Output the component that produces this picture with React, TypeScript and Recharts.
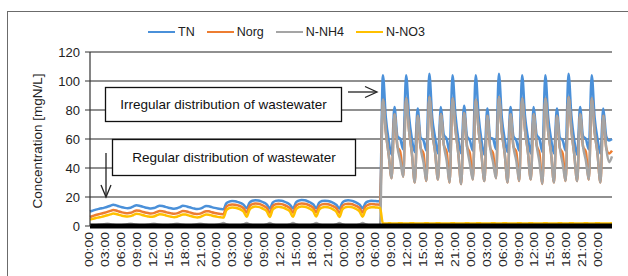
import React from "react";
import { LineChart, Line, XAxis, YAxis, CartesianGrid } from "recharts";

const FONT = '"Liberation Sans", Arial, sans-serif';

const SERIES = ["TN", "Norg", "N-NH4", "N-NO3"];
const KEYS = ["tn", "norg", "nh4", "no3"];
const COLORS = ["#4a90d9", "#ed7d31", "#a5a5a5", "#ffc000"];

const Y_TICKS = [0, 20, 40, 60, 80, 100, 120];

const TICK_HOURS = [
  0, 3, 6, 9, 12, 15, 18, 21, 24, 27, 30, 33, 36, 39, 42, 45, 48, 51, 54, 57, 60,
  63, 66, 69, 72, 75, 78, 81, 84, 87, 90, 93, 96,
];
const TICK_LABELS = [
  "00:00", "03:00", "06:00", "09:00", "12:00", "15:00", "18:00", "21:00",
  "00:00", "03:00", "06:00", "09:00", "12:00", "15:00", "18:00", "21:00",
  "00:00", "03:00", "06:00", "09:00", "12:00", "15:00", "18:00", "21:00",
  "00:00", "03:00", "06:00", "09:00", "12:00", "15:00", "18:00", "21:00",
  "00:00",
];

// one sample every ~33 min, 181 samples
const SAMPLE_STEP_H = 98.5 / 180;

// TN [mgN/L]
const TN = [
  // regular, low load
  10.0, 10.6, 11.3, 11.8, 12.2, 12.7, 13.3, 14.0, 14.6, 14.2,
  13.5, 12.9, 12.5, 12.3, 12.6, 13.5, 14.3, 14.0, 13.4, 12.8,
  12.4, 12.1, 12.4, 13.2, 14.0, 13.8, 13.2, 12.6, 12.2, 11.9,
  12.2, 13.0, 13.9, 13.7, 13.1, 12.5, 12.0, 11.7, 12.0, 12.9,
  13.8, 13.6, 13.0, 12.5, 12.1, 11.8, 11.6,
  // regular, higher load
  15.6, 16.8, 17.2, 17.0, 16.5, 15.8, 14.6, 12.2,
  16.0, 17.4, 17.8, 17.6, 17.0, 16.1, 14.8, 12.0,
  16.1, 17.3, 17.6, 17.4, 16.8, 15.9, 14.6, 12.1,
  16.2, 17.5, 17.9, 17.7, 17.1, 16.2, 14.9, 12.3,
  16.0, 17.2, 17.5, 17.3, 16.7, 15.8, 14.5, 12.0,
  16.1, 17.4, 17.7, 17.5, 16.9, 16.0, 14.7, 12.2,
  15.8, 17.0, 17.4, 17.3, 17.1, 17.0,
  // irregular
  104, 75, 59, 49, 82, 62, 60, 53,
  104, 76, 60, 51, 81, 61, 59, 52,
  105, 75, 61, 50, 82, 63, 60, 51,
  104, 77, 60, 50, 83, 62, 59, 52,
  104, 76, 59, 49, 81, 61, 60, 53,
  105, 75, 60, 51, 82, 62, 59, 52,
  104, 76, 61, 50, 82, 63, 60, 51,
  104, 75, 60, 50, 81, 61, 59, 52,
  105, 76, 59, 49, 82, 62, 60, 53,
  104, 75, 60, 50, 81, 62, 59, 60,
];

const NORG = [
  6.2, 6.9, 7.6, 8.1, 8.6, 9.1, 9.7, 10.4, 11.0, 10.7,
  10.0, 9.4, 9.0, 8.8, 9.1, 9.9, 10.7, 10.5, 9.9, 9.3,
  8.9, 8.6, 8.9, 9.7, 10.4, 10.2, 9.7, 9.1, 8.7, 8.4,
  8.7, 9.5, 10.3, 10.2, 9.6, 9.0, 8.5, 8.2, 8.5, 9.4,
  10.2, 10.1, 9.5, 9.0, 8.6, 8.3, 8.1,
  13.2, 14.5, 14.9, 14.7, 14.2, 13.5, 12.2, 9.3,
  13.6, 15.1, 15.5, 15.3, 14.7, 13.8, 12.4, 9.1,
  13.7, 15.0, 15.3, 15.1, 14.5, 13.6, 12.2, 9.2,
  13.8, 15.2, 15.6, 15.4, 14.8, 13.9, 12.5, 9.4,
  13.6, 14.9, 15.2, 15.0, 14.4, 13.5, 12.1, 9.1,
  13.7, 15.1, 15.4, 15.2, 14.6, 13.7, 12.3, 9.3,
  13.4, 14.7, 15.1, 15.0, 14.8, 14.7,
  87, 65, 49, 33, 77, 55, 51, 34,
  88, 66, 50, 30, 76, 54, 50, 31,
  89, 65, 51, 32, 77, 56, 51, 30,
  88, 67, 50, 29, 78, 55, 50, 32,
  87, 66, 49, 31, 76, 54, 50, 33,
  89, 65, 50, 30, 77, 55, 51, 31,
  88, 66, 51, 32, 77, 56, 50, 29,
  88, 65, 50, 30, 76, 54, 50, 31,
  89, 66, 49, 31, 77, 55, 51, 32,
  88, 65, 50, 30, 76, 54, 50, 52,
];

const NH4 = [
  0.5, 0.5, 0.6, 0.8, 1.0, 1.3, 1.6, 1.2, 0.8, 0.6,
  0.5, 0.6, 0.9, 1.3, 1.6, 1.2, 0.8, 0.6, 0.5, 0.6,
  0.9, 1.3, 1.6, 1.2, 0.8, 0.6, 0.5, 0.6, 0.9, 1.3,
  1.6, 1.2, 0.8, 0.6, 0.5, 0.6, 0.9, 1.3, 1.6, 1.2,
  0.8, 0.6, 0.5, 0.6, 0.9, 1.4, 2.0,
  1.0, 0.6, 0.5, 0.5, 0.5, 0.6, 1.0, 2.0,
  1.0, 0.6, 0.5, 0.5, 0.5, 0.6, 1.0, 2.0,
  1.0, 0.6, 0.5, 0.5, 0.5, 0.6, 1.0, 2.0,
  1.0, 0.6, 0.5, 0.5, 0.5, 0.6, 1.0, 2.0,
  1.0, 0.6, 0.5, 0.5, 0.5, 0.6, 1.0, 2.0,
  1.0, 0.6, 0.5, 0.5, 0.5, 0.6, 1.0, 2.0,
  1.0, 0.6, 0.5, 0.5, 0.5, 0.5,
  87, 65, 49, 33, 77, 55, 45, 34,
  88, 66, 50, 30, 76, 54, 44, 31,
  89, 65, 51, 32, 77, 56, 45, 30,
  88, 67, 50, 29, 78, 55, 43, 32,
  87, 66, 49, 31, 76, 54, 44, 33,
  89, 65, 50, 30, 77, 55, 45, 31,
  88, 66, 51, 32, 77, 56, 44, 29,
  88, 65, 50, 30, 76, 54, 43, 31,
  89, 66, 49, 31, 77, 55, 45, 32,
  88, 65, 50, 30, 76, 54, 44, 48,
];

const NO3 = [
  4.4, 4.9, 5.5, 5.9, 6.3, 6.8, 7.4, 8.0, 8.6, 8.3,
  7.7, 7.1, 6.7, 6.5, 6.8, 7.6, 8.4, 8.2, 7.6, 7.0,
  6.6, 6.3, 6.6, 7.4, 8.1, 8.0, 7.4, 6.8, 6.4, 6.1,
  6.4, 7.2, 8.0, 7.9, 7.3, 6.7, 6.2, 5.9, 6.2, 7.1,
  7.9, 7.8, 7.2, 6.7, 6.3, 6.0, 5.8,
  10.8, 12.3, 12.8, 12.6, 12.1, 11.3, 9.8, 6.4,
  11.2, 12.9, 13.4, 13.2, 12.6, 11.6, 10.0, 6.2,
  11.3, 12.8, 13.2, 13.0, 12.4, 11.4, 9.8, 6.3,
  11.4, 13.0, 13.5, 13.3, 12.7, 11.7, 10.1, 6.5,
  11.2, 12.7, 13.1, 12.9, 12.3, 11.3, 9.7, 6.2,
  11.3, 12.9, 13.3, 13.1, 12.5, 11.5, 9.9, 6.4,
  11.0, 12.5, 13.0, 12.9, 12.7, 12.6,
  1.8, 1.7, 1.9, 1.8, 1.7, 1.8, 1.9, 1.8,
  1.7, 1.8, 1.9, 1.8, 1.7, 1.8, 1.8, 1.9,
  1.8, 1.7, 1.8, 1.9, 1.8, 1.7, 1.8, 1.8,
  1.9, 1.8, 1.7, 1.8, 1.8, 1.9, 1.8, 1.7,
  1.8, 1.9, 1.8, 1.7, 1.8, 1.8, 1.9, 1.8,
  1.7, 1.8, 1.9, 1.8, 1.7, 1.8, 1.8, 1.9,
  1.8, 1.7, 1.8, 1.9, 1.8, 1.7, 1.8, 1.8,
  1.9, 1.8, 1.7, 1.8, 1.8, 1.9, 1.8, 1.7,
  1.8, 1.9, 1.8, 1.7, 1.8, 1.8, 1.9, 1.8,
  1.7, 1.8, 1.9, 1.8, 1.7, 1.8, 1.8, 1.9,
];

const rows = TN.map((v, i) => ({
  t: i * SAMPLE_STEP_H,
  tn: v,
  norg: NORG[i],
  nh4: NH4[i],
  no3: NO3[i],
}));

function TimeTick({ x, y, payload }: any) {
  const label = TICK_LABELS[TICK_HOURS.indexOf(payload.value)];
  return (
    <g transform={`translate(${x},${y})`}>
      <text
        transform="rotate(-90) scale(1.4,1)"
        textAnchor="end"
        dominantBaseline="central"
        fontSize={10}
        fill="#222"
        fontFamily={FONT}
      >
        {label}
      </text>
    </g>
  );
}

export default function App() {
  return (
    <div
      style={{
        position: "absolute",
        left: 0,
        top: 0,
        width: 628,
        height: 276,
        background: "#fff",
        overflow: "hidden",
        fontFamily: FONT,
      }}
    >
      <div
        style={{
          position: "absolute",
          left: 7,
          top: 11,
          width: 700,
          height: 400,
          borderLeft: "1.5px solid #6b6b6b",
          borderTop: "1.5px solid #6b6b6b",
        }}
      />
      <div style={{ position: "absolute", left: 0, top: 0 }}>
        <LineChart
          width={628}
          height={276}
          data={rows}
          margin={{ top: 52, right: 16, bottom: 0, left: 0 }}
        >
          <CartesianGrid vertical={false} stroke="#222" strokeWidth={1.2} />
          <XAxis
            dataKey="t"
            type="number"
            domain={[0, 180 * SAMPLE_STEP_H]}
            ticks={TICK_HOURS}
            interval={0}
            tick={<TimeTick />}
            tickLine={false}
            tickSize={0}
            tickMargin={6}
            axisLine={{ stroke: "#000", strokeWidth: 5 }}
            height={50}
          />
          <YAxis
            type="number"
            domain={[0, 120]}
            ticks={Y_TICKS}
            width={90}
            tickSize={5}
            tickMargin={5}
            tick={{ fontSize: 13, fill: "#222", fontFamily: FONT }}
            tickLine={{ stroke: "#333" }}
            axisLine={{ stroke: "#333", strokeWidth: 1.2 }}
          />
          {KEYS.map((k, i) => (
            <Line
              key={k}
              dataKey={k}
              name={SERIES[i]}
              type="monotone"
              stroke={COLORS[i]}
              strokeWidth={2.5}
              dot={false}
              isAnimationActive={false}
            />
          ))}
        </LineChart>
      </div>

      <div
        style={{
          position: "absolute",
          left: 148,
          top: 24,
          display: "flex",
          alignItems: "center",
          gap: 12,
          fontSize: 12.5,
          color: "#222",
          lineHeight: "16px",
        }}
      >
        {SERIES.map((name, i) => (
          <div key={name} style={{ display: "flex", alignItems: "center", gap: 3 }}>
            <span style={{ display: "inline-block", width: 27, height: 2.5, background: COLORS[i] }} />
            <span>{name}</span>
          </div>
        ))}
      </div>

      <svg
        width={628}
        height={276}
        style={{ position: "absolute", left: 0, top: 0, pointerEvents: "none" }}
      >
        <text
          transform="translate(37,141) rotate(-90)"
          textAnchor="middle"
          dominantBaseline="central"
          fontSize={13.5}
          fill="#222"
          fontFamily={FONT}
        >
          Concentration [mgN/L]
        </text>

        <rect x={105.5} y={87.5} width={236} height={34} fill="#fff" stroke="#111" strokeWidth={1.3} />
        <text x={223.5} y={104.5} textAnchor="middle" dominantBaseline="central" fontSize={13.5} fill="#111" fontFamily={FONT}>
          Irregular distribution of wastewater
        </text>
        <rect x={112.5} y={139.5} width={243} height={36} fill="#fff" stroke="#111" strokeWidth={1.3} />
        <text x={234} y={157.5} textAnchor="middle" dominantBaseline="central" fontSize={13.5} fill="#111" fontFamily={FONT}>
          Regular distribution of wastewater
        </text>

        <g stroke="#222" strokeWidth={1.3} fill="none">
          <line x1={348} y1={92} x2={376} y2={92} />
          <polyline points="365,86.5 377,92 365,97.5" />
          <line x1={106} y1={153} x2={106} y2={196} />
          <polyline points="101,185 106,197 111,185" />
        </g>
      </svg>
    </div>
  );
}
